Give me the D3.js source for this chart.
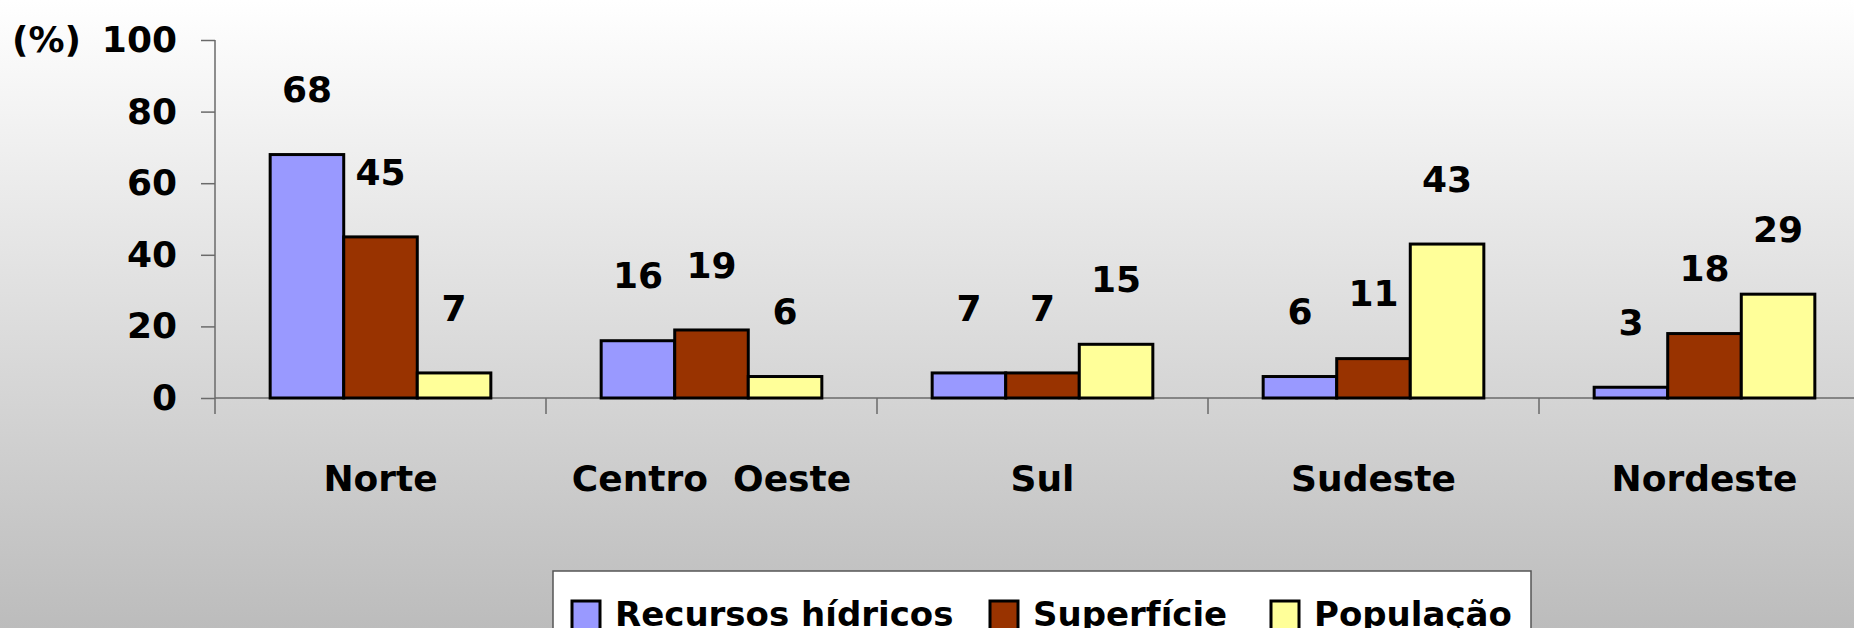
<!DOCTYPE html>
<html>
<head>
<meta charset="utf-8">
<script src="https://cdn.jsdelivr.net/npm/d3@7"></script>
<style>
  html, body { margin: 0; padding: 0; overflow: hidden; }
  svg { display: block; }
  text { font-family: "Comic Sans MS", "DejaVu Sans", sans-serif; font-weight: bold; fill: #000; }
</style>
</head>
<body>
<svg id="canvas" width="1854" height="628"></svg>
<script>
// data
const regions = ["Norte", "Centro  Oeste", "Sul", "Sudeste", "Nordeste"];
const seriesNames = ["Recursos hídricos", "Superfície", "População"];
const recursos = [68, 16, 7, 6, 3];
const superficie = [45, 19, 7, 11, 18];
const populacao = [7, 6, 15, 43, 29];
const yTicks = [0, 20, 40, 60, 80, 100];

const seriesColors = ["#9999ff", "#993300", "#ffff99"];
const seriesValues = [recursos, superficie, populacao];

const width = 1854, height = 628;
const svg = d3.select("#canvas");

// background gradient
const defs = svg.append("defs");
const grad = defs.append("linearGradient")
  .attr("id", "bg").attr("x1", 0).attr("y1", 0).attr("x2", 0).attr("y2", 1);
grad.append("stop").attr("offset", "0%").attr("stop-color", "#ffffff");
grad.append("stop").attr("offset", "100%").attr("stop-color", "#bcbcbc");
svg.append("rect").attr("width", width).attr("height", height).attr("fill", "url(#bg)");

// plot area runs past the right edge, like the original
const left = 215, step = 331;
const x0 = d3.scaleBand().domain(regions).range([left, left + step * regions.length]).padding(0);
const x1 = d3.scaleBand().domain(d3.range(seriesNames.length))
  .range([x0.bandwidth() / 6, x0.bandwidth() * 5 / 6]).padding(0);
const y = d3.scaleLinear().domain([0, 100]).range([398, 40]);

// y axis
const yAxis = svg.append("g")
  .attr("transform", "translate(" + left + ",0)")
  .call(d3.axisLeft(y).tickValues(yTicks).tickSize(14).tickPadding(24));
yAxis.select(".domain").remove();
yAxis.selectAll(".tick line").attr("stroke", "#6a6a6a").attr("stroke-width", 1.5);
yAxis.selectAll(".tick text")
  .style("font-size", "36px")
  .style("font-family", "'Comic Sans MS', 'DejaVu Sans', sans-serif")
  .style("font-weight", "bold")
  .attr("fill", "#000");

svg.append("line")
  .attr("x1", left).attr("x2", left)
  .attr("y1", y(100)).attr("y2", y(0) + 16)
  .attr("stroke", "#6a6a6a").attr("stroke-width", 1.5);

svg.append("text")
  .attr("x", 12).attr("y", y(100))
  .attr("dy", "0.32em")
  .style("font-size", "36px")
  .text("(%)");

// category axis: zero line + ticks on band edges
svg.append("line")
  .attr("x1", left).attr("x2", width)
  .attr("y1", y(0)).attr("y2", y(0))
  .attr("stroke", "#6a6a6a").attr("stroke-width", 1.5);

svg.append("g").selectAll("line")
  .data(regions.slice(1).concat(["__end"]))
  .enter().append("line")
  .attr("x1", (d, i) => x0(regions[0]) + x0.step() * (i + 1))
  .attr("x2", (d, i) => x0(regions[0]) + x0.step() * (i + 1))
  .attr("y1", y(0)).attr("y2", y(0) + 16)
  .attr("stroke", "#6a6a6a").attr("stroke-width", 1.5);

svg.append("g").selectAll("text")
  .data(regions)
  .enter().append("text")
  .attr("x", d => x0(d) + x0.bandwidth() / 2)
  .attr("y", 478)
  .attr("dy", "0.35em")
  .attr("text-anchor", "middle")
  .style("font-size", "36px")
  .style("white-space", "pre")
  .attr("xml:space", "preserve")
  .text(d => d);

// bars
const rows = [];
regions.forEach((r, i) => {
  seriesValues.forEach((vals, s) => rows.push({ region: r, s: s, value: vals[i] }));
});

svg.append("g").selectAll("rect")
  .data(rows)
  .enter().append("rect")
  .attr("x", d => x0(d.region) + x1(d.s))
  .attr("y", d => y(d.value))
  .attr("width", x1.bandwidth())
  .attr("height", d => y(0) - y(d.value))
  .attr("fill", d => seriesColors[d.s])
  .attr("stroke", "#000")
  .attr("stroke-width", 3);

svg.append("g").selectAll("text")
  .data(rows)
  .enter().append("text")
  .attr("x", d => x0(d.region) + x1(d.s) + x1.bandwidth() / 2)
  .attr("y", d => y(d.value) - 65)
  .attr("dy", "0.35em")
  .attr("text-anchor", "middle")
  .style("font-size", "36px")
  .text(d => d.value);

// legend (cut off by the bottom edge, as in the original)
const legend = svg.append("g");
legend.append("rect")
  .attr("x", 553).attr("y", 571)
  .attr("width", 978).attr("height", 80)
  .attr("fill", "#fff")
  .attr("stroke", "#555").attr("stroke-width", 1.5);

const legendX = [572, 990, 1271];
seriesNames.forEach((name, s) => {
  legend.append("rect")
    .attr("x", legendX[s]).attr("y", 601)
    .attr("width", 28).attr("height", 30)
    .attr("fill", seriesColors[s])
    .attr("stroke", "#000").attr("stroke-width", 3);
  legend.append("text")
    .attr("x", legendX[s] + 43).attr("y", 626)
    .style("font-size", "34px")
    .text(name);
});
</script>
</body>
</html>
